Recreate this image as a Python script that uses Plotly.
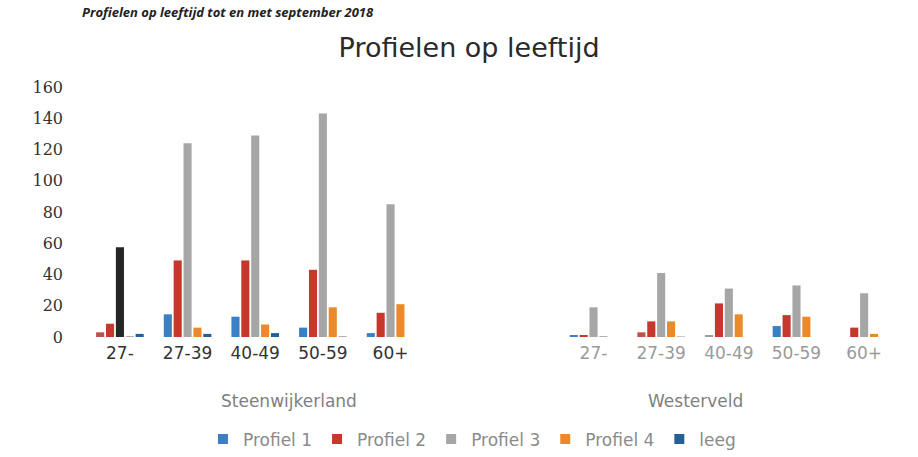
import plotly.graph_objects as go

groups = ["Steenwijkerland", "Westerveld"]
ages = ["27-", "27-39", "40-49", "50-59", "60+"]
series = ["Profiel 1", "Profiel 2", "Profiel 3", "Profiel 4", "leeg"]

# values per series: Steenwijkerland ages then Westerveld ages
profiel1 = [3, 14.5, 13, 6, 2.5, 1, 3, 1, 7, 0]
profiel2 = [8.5, 49, 49, 43, 15.5, 1, 10, 21.5, 14, 6]
profiel3 = [57.5, 124, 129, 143, 85, 19, 41, 31, 33, 28]
profiel4 = [0.6, 6, 8, 19, 21, 0.6, 10, 14.5, 13, 2]
leeg = [2, 2, 2.5, 0.5, 0, 0, 0.6, 0, 0, 0]

values = [profiel1, profiel2, profiel3, profiel4, leeg]
colors = ["#3b7fc4", "#c6372c", "#a6a6a6", "#eb8a2c", "#245f96"]
# scanned-in colour deviations visible in the reference
bar_colors = [
    ["#b5554d", None, None, None, None, None, "#b5554d", "#9a9a9a", None, None],
    [None] * 10,
    ["#262626", None, None, None, None, None, None, None, None, None],
    ["#b0b0b0", None, None, None, None, "#b0b0b0", None, None, None, None],
    [None, None, None, "#b0b0b0", None, None, "#c8c8c8", None, None, None],
]
tick_colors = ["#333333", "#9a9a9a"]

# each group spans 6 category slots: one empty slot after the first group's
# ages and one before the second group's ages (as in the original chart)
slots_per_group = len(ages) + 1
group_offset = [0, 1]
xpos = [gi * slots_per_group + group_offset[gi] + ai
        for gi in range(len(groups)) for ai in range(len(ages))]
ticktext = [f'<span style="color:{tick_colors[gi]}">{a}</span>'
            for gi in range(len(groups)) for a in ages]

fig = go.Figure()
for name, vals, col, bc in zip(series, values, colors, bar_colors):
    fig.add_trace(go.Bar(
        x=xpos, y=vals, name=name, legendgroup=name, showlegend=False,
        marker=dict(color=[c if c else col for c in bc], line=dict(width=0)),
    ))
# legend entries with the series colours (scatter, so bar grouping is unaffected)
for name, col in zip(series, colors):
    fig.add_trace(go.Scatter(x=[None], y=[None], name=name, legendgroup=name, mode="markers",
                             marker=dict(color=col, symbol="square", size=10), showlegend=True))

for gi, g in enumerate(groups):
    center = gi * slots_per_group + (slots_per_group - 1) / 2
    fig.add_annotation(x=center, y=-0.255, xref="x", yref="paper", text=g,
                       showarrow=False, yanchor="middle",
                       font=dict(family="DejaVu Sans", size=17, color="#808080"))

fig.add_annotation(x=0.0, y=1.0, xref="paper", yref="paper", xanchor="left", yanchor="top",
                   yshift=86, text="<b><i>Profielen op leeftijd tot en met september 2018</i></b>",
                   showarrow=False, font=dict(family="Open Sans", size=13, color="#222"))

fig.update_layout(
    width=918, height=457,
    paper_bgcolor="white", plot_bgcolor="white",
    margin=dict(l=80, r=18, t=87, b=120, autoexpand=False),
    title=dict(text="Profielen op leeftijd", x=0.511, xanchor="center", y=0.897, yanchor="middle",
               font=dict(family="DejaVu Sans", size=27, color="#2a2a2a")),
    barmode="group", bargap=0.27, bargroupgap=0.18,
    showlegend=True,
    legend=dict(orientation="h", x=0.478, xanchor="center", y=-0.41, yanchor="middle",
                font=dict(family="DejaVu Sans", size=17, color="#8a8a8a"),
                itemwidth=30, traceorder="normal"),
    font=dict(family="DejaVu Sans"),
)
fig.update_xaxes(tickmode="array", tickvals=xpos, ticktext=ticktext,
                 range=[-0.59, max(xpos) + 0.53],
                 showgrid=False, zeroline=False, showline=False, ticks="",
                 tickfont=dict(family="DejaVu Sans", size=17, color="#333"),
                 ticklabelstandoff=4)
fig.update_yaxes(range=[0, 160], tickvals=list(range(0, 161, 20)),
                 showgrid=False, zeroline=False, showline=False, ticks="",
                 tickfont=dict(family="DejaVu Serif", size=16, color="#333"),
                 ticklabelstandoff=16)

fig.write_html("out.html", config={"displayModeBar": False},
               post_script="document.body.style.margin='0';")
